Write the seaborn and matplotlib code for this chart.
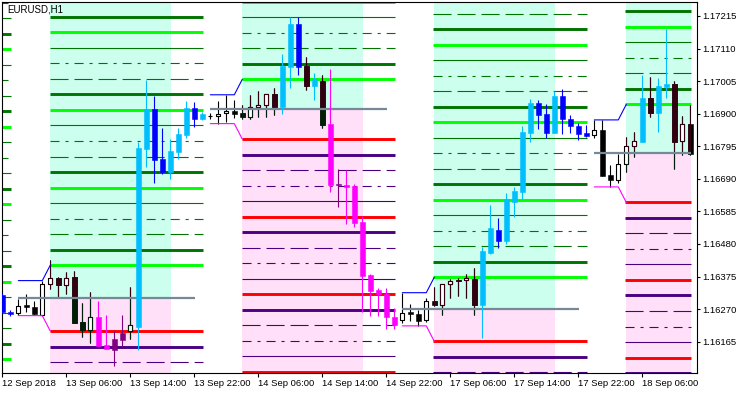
import matplotlib
matplotlib.use("Agg")
import numpy as np
import pandas as pd
import matplotlib.pyplot as plt
from matplotlib.patches import Rectangle
from matplotlib.collections import PatchCollection, LineCollection
from matplotlib.path import Path
import seaborn as sns

sns.set_style("white")
plt.rcParams["font.family"] = ["Liberation Sans", "DejaVu Sans"]
plt.rcParams["lines.scale_dashes"] = False

# ---------------- data ----------------
SYMBOL = "EURUSD,H1"

BAR_TIMES = list(pd.date_range("2018-09-12 22:00", "2018-09-14 23:00", freq="h")) + \
            list(pd.date_range("2018-09-17 00:00", "2018-09-18 12:00", freq="h"))

OPEN = [1.16316, 1.16262, 1.16257, 1.16283, 1.16276, 1.16251, 1.16350, 1.16369, 1.16347, 1.16373,
        1.16228, 1.16204, 1.16245, 1.16154, 1.16139, 1.16171, 1.16200, 1.16213, 1.16786, 1.16915,
        1.16754, 1.16713, 1.16778, 1.16831, 1.16918, 1.16884, 1.16893, 1.16892, 1.16901, 1.16909,
        1.16901, 1.16889, 1.16921, 1.16927, 1.16963, 1.16923, 1.17052, 1.17189, 1.17055, 1.16990,
        1.17005, 1.16867, 1.16671, 1.16670, 1.16668, 1.16551, 1.16380, 1.16332, 1.16319, 1.16246,
        1.16234, 1.16262, 1.16254, 1.16235, 1.16296, 1.16283, 1.16350, 1.16364, 1.16363, 1.16367,
        1.16283, 1.16452, 1.16525, 1.16491, 1.16616, 1.16648, 1.16839, 1.16934, 1.16899, 1.16839,
        1.16956, 1.16883, 1.16860, 1.16837, 1.16830, 1.16847, 1.16702, 1.16685, 1.16737, 1.16796,
        1.16810, 1.16950, 1.16903, 1.16987, 1.16996, 1.16813, 1.16867]
HIGH = [1.16322, 1.16266, 1.16302, 1.16318, 1.16296, 1.16362, 1.16428, 1.16372, 1.16390, 1.16393,
        1.16289, 1.16326, 1.16296, 1.16251, 1.16200, 1.16251, 1.16341, 1.16810, 1.17010, 1.16956,
        1.16855, 1.16818, 1.16855, 1.16942, 1.16939, 1.16905, 1.16901, 1.16941, 1.16961, 1.16944,
        1.16929, 1.16961, 1.16973, 1.16964, 1.16982, 1.17093, 1.17211, 1.17211, 1.17082, 1.17030,
        1.17024, 1.17044, 1.16722, 1.16718, 1.16674, 1.16571, 1.16383, 1.16337, 1.16337, 1.16275,
        1.16323, 1.16286, 1.16267, 1.16305, 1.16340, 1.16351, 1.16368, 1.16371, 1.16383, 1.16403,
        1.16471, 1.16606, 1.16563, 1.16645, 1.16664, 1.16860, 1.16948, 1.16944, 1.16930, 1.16974,
        1.16979, 1.16896, 1.16871, 1.16863, 1.16880, 1.16879, 1.16736, 1.16771, 1.16825, 1.16841,
        1.17025, 1.17018, 1.17015, 1.17173, 1.17004, 1.16893, 1.16927]
LOW = [1.16258, 1.16248, 1.16251, 1.16262, 1.16251, 1.16249, 1.16334, 1.16310, 1.16318, 1.16225,
       1.16181, 1.16162, 1.16151, 1.16141, 1.16088, 1.16151, 1.16175, 1.16138, 1.16729, 1.16678,
       1.16705, 1.16690, 1.16754, 1.16823, 1.16858, 1.16880, 1.16883, 1.16868, 1.16873, 1.16886,
       1.16882, 1.16883, 1.16889, 1.16889, 1.16896, 1.16898, 1.16984, 1.17026, 1.16977, 1.16945,
       1.16855, 1.16648, 1.16598, 1.16545, 1.16536, 1.16262, 1.16249, 1.16249, 1.16205, 1.16205,
       1.16224, 1.16232, 1.16216, 1.16230, 1.16280, 1.16251, 1.16307, 1.16313, 1.16307, 1.16251,
       1.16178, 1.16448, 1.16468, 1.16480, 1.16566, 1.16625, 1.16810, 1.16852, 1.16821, 1.16837,
       1.16836, 1.16839, 1.16814, 1.16825, 1.16821, 1.16699, 1.16664, 1.16676, 1.16713, 1.16760,
       1.16808, 1.16890, 1.16842, 1.16952, 1.16723, 1.16768, 1.16768]
CLOSE = [1.16262, 1.16253, 1.16280, 1.16276, 1.16253, 1.16350, 1.16369, 1.16347, 1.16371, 1.16226,
         1.16204, 1.16244, 1.16152, 1.16142, 1.16174, 1.16194, 1.16218, 1.16789, 1.16915, 1.16751,
         1.16713, 1.16780, 1.16835, 1.16919, 1.16884, 1.16899, 1.16893, 1.16898, 1.16908, 1.16900,
         1.16889, 1.16922, 1.16927, 1.16963, 1.16923, 1.17054, 1.17189, 1.17052, 1.16990, 1.17013,
         1.16865, 1.16670, 1.16673, 1.16665, 1.16549, 1.16378, 1.16329, 1.16318, 1.16244, 1.16219,
         1.16257, 1.16253, 1.16233, 1.16296, 1.16282, 1.16350, 1.16361, 1.16360, 1.16369, 1.16283,
         1.16457, 1.16533, 1.16491, 1.16625, 1.16651, 1.16841, 1.16934, 1.16897, 1.16839, 1.16956,
         1.16884, 1.16861, 1.16836, 1.16828, 1.16847, 1.16700, 1.16685, 1.16737, 1.16796, 1.16811,
         1.16951, 1.16903, 1.16988, 1.16996, 1.16810, 1.16867, 1.16769]

# daily breakout sessions (first bar of the trading range, after a 4-bar box)
RANGE_START_TIME = ["2018-09-12 04:00", "2018-09-13 04:00", "2018-09-14 04:00",
                    "2018-09-17 04:00", "2018-09-18 04:00"]
BOX_HIGH = [1.16058, 1.16362, 1.16961, 1.16323, 1.16880]
BOX_LOW = [1.15940, 1.16249, 1.16868, 1.16216, 1.16664]
RANGE_HIGH = [1.16108, 1.16412, 1.17011, 1.16373, 1.16930]
RANGE_LOW = [1.15890, 1.16199, 1.16818, 1.16166, 1.16614]
LEVEL_STEPS_PIPS = [0, 5, 10, 15, 20, 25, 30, 35, 40, 45, 50, 55, 60, 65, 70, 75, 80,
                    85, 90, 95, 100, 105, 110, 115, 120]
PIP = 0.0001

TICK_TIMES = ["2018-09-12 22:00", "2018-09-13 06:00", "2018-09-13 14:00", "2018-09-13 22:00",
              "2018-09-14 06:00", "2018-09-14 14:00", "2018-09-14 22:00", "2018-09-17 06:00",
              "2018-09-17 14:00", "2018-09-17 22:00", "2018-09-18 06:00"]
TICK_LABELS = ["12 Sep 2018", "13 Sep 06:00", "13 Sep 14:00", "13 Sep 22:00", "14 Sep 06:00",
               "14 Sep 14:00", "14 Sep 22:00", "17 Sep 06:00", "17 Sep 14:00", "17 Sep 22:00",
               "18 Sep 06:00"]
Y_TICKS = [1.17215, 1.17110, 1.17005, 1.16900, 1.16795, 1.16690, 1.16585, 1.16480,
           1.16375, 1.16270, 1.16165]

# ---------------- styles ----------------
GREEN_BG = "#CCFFEE"
PINK_BG = "#FFE0F8"
DARK_ON_GREEN = "#330011"
DARK_ON_PINK = "#001F07"
DASH = (0, (13, 4.3))
DASHDOT = (0, (6.5, 4.3, 2.2, 4.3))
UP_STYLES = [("#00FF00", 2.1, "-"), ("#007400", 2.1, "-"), ("#007400", 0.8, DASH),
             ("#007400", 0.8, DASHDOT), ("#007400", 0.8, "-")]
DN_STYLES = [("#FF0000", 2.1, "-"), ("#4B0082", 2.1, "-"), ("#4B0082", 0.8, DASH),
             ("#4B0082", 0.8, DASHDOT), ("#4B0082", 0.8, "-")]

NB = len(OPEN)
LAST = NB - 1
XMIN, XMAX = -0.04, 86.84
YMIN, YMAX = 1.160641, 1.172601

# map times to bar positions (hours before the first bar extend linearly)
t0 = BAR_TIMES[0]
pos_of = {t: i for i, t in enumerate(BAR_TIMES)}


def bar_pos(ts):
    ts = pd.Timestamp(ts)
    if ts in pos_of:
        return pos_of[ts]
    return int((ts - t0) / pd.Timedelta(hours=1))


RANGE_START = [bar_pos(t) for t in RANGE_START_TIME]

fig = plt.figure(figsize=(7.5, 3.94), dpi=100)
ax = fig.add_axes([2 / 750, 1 - 373 / 394, 695 / 750, 371 / 394])
ax.set_xlim(XMIN, XMAX)
ax.set_ylim(YMIN, YMAX)

green_rects, pink_rects = [], []
for b, rs in enumerate(RANGE_START):
    mid = (BOX_HIGH[b] + BOX_LOW[b]) / 2
    # zone shading
    x0 = rs - 0.04
    x1 = min(rs + 15, LAST) + 0.1
    if x1 > XMIN:
        ax.add_patch(Rectangle((x0, mid), x1 - x0, YMAX + 0.01 - mid, facecolor=GREEN_BG,
                               edgecolor="none", zorder=1))
        ax.add_patch(Rectangle((x0, YMIN - 0.01), x1 - x0, mid - YMIN + 0.01, facecolor=PINK_BG,
                               edgecolor="none", zorder=1))
        green_rects.append((x0, mid, x1, YMAX + 0.01))
        pink_rects.append((x0, YMIN - 0.01, x1, mid))
    # levels
    lx0 = rs - 0.1
    lx1 = min(rs + 19, LAST) + 0.1
    for k, st in enumerate(LEVEL_STEPS_PIPS):
        c, lw, ls = UP_STYLES[k % 5]
        y = RANGE_HIGH[b] + st * PIP
        ax.plot([lx0, lx1], [y, y], color=c, lw=lw, ls=ls, solid_capstyle="butt",
                dash_capstyle="butt", zorder=2)
        c, lw, ls = DN_STYLES[k % 5]
        y = RANGE_LOW[b] - st * PIP
        ax.plot([lx0, lx1], [y, y], color=c, lw=lw, ls=ls, solid_capstyle="butt",
                dash_capstyle="butt", zorder=2)
    # mid line
    ax.plot([rs - 4, min(rs + 18, LAST) + 0.05], [mid, mid], color="#778899", lw=1.6,
            solid_capstyle="butt", zorder=3.5)
    # box high / low tracking lines
    bx = [rs - 4, rs - 3, rs - 2, rs - 1, rs]
    sns.lineplot(x=bx, y=[BOX_HIGH[b]] * 4 + [RANGE_HIGH[b]], color="#0000FF", lw=0.8,
                 ax=ax, estimator=None, sort=False, legend=False, zorder=3.6)
    sns.lineplot(x=bx, y=[BOX_LOW[b]] * 4 + [RANGE_LOW[b]], color="#FF00FF", lw=0.8,
                 ax=ax, estimator=None, sort=False, legend=False, zorder=3.6)


def compound(rects):
    paths = []
    for (a, b_, c, d) in rects:
        paths.append(Path([(a, b_), (c, b_), (c, d), (a, d), (a, b_)],
                          [Path.MOVETO, Path.LINETO, Path.LINETO, Path.LINETO, Path.CLOSEPOLY]))
    return Path.make_compound_path(*paths)


GREEN_PATH = compound(green_rects)
PINK_PATH = compound(pink_rects)

# candle classification
colored = {}
for i in range(NB):
    bull = CLOSE[i] >= OPEN[i]
    for b, rs in enumerate(RANGE_START):
        if rs <= i <= rs + 19:
            if CLOSE[i] > RANGE_HIGH[b]:
                colored[i] = "#00BFFF" if bull else "#0000FF"
            elif CLOSE[i] < RANGE_LOW[b]:
                colored[i] = "#800080" if bull else "#FF00FF"
default_idx = [i for i in range(NB) if i not in colored]
colored_idx = sorted(colored)


def draw_candles(idx, dark, zorder, clip=None, colmap=None):
    segs, lcols, rects, fcs, ecs, lws = [], [], [], [], [], []
    for i in idx:
        o, c = OPEN[i], CLOSE[i]
        lo, hi = min(o, c), max(o, c)
        if colmap is not None:
            col = colmap[i]
            face, edge, w, lw = col, col, 0.62, 0.4
        else:
            col = dark
            if c >= o:
                face, edge, w, lw = "white", dark, 0.52, 0.8
            else:
                face, edge, w, lw = dark, dark, 0.62, 0.4
        segs.append([(i, LOW[i]), (i, HIGH[i])])
        lcols.append(col)
        rects.append(Rectangle((i - w / 2, lo), w, max(hi - lo, 1e-6)))
        fcs.append(face)
        ecs.append(edge)
        lws.append(lw)
    lc = LineCollection(segs, colors=lcols, linewidths=0.8, zorder=zorder)
    pc = PatchCollection(rects, facecolors=fcs, edgecolors=ecs, linewidths=lws,
                         zorder=zorder + 0.01)
    ax.add_collection(lc)
    ax.add_collection(pc)
    if clip is not None:
        lc.set_clip_path(clip, ax.transData)
        pc.set_clip_path(clip, ax.transData)


draw_candles(default_idx, "black", 3.0)
draw_candles(default_idx, DARK_ON_GREEN, 3.1, clip=GREEN_PATH)
draw_candles(default_idx, DARK_ON_PINK, 3.2, clip=PINK_PATH)
draw_candles(colored_idx, None, 4.0, colmap=colored)

# axes cosmetics
for s in ax.spines.values():
    s.set_color("black")
    s.set_linewidth(0.8)
    s.set_visible(True)
ax.set_xticks([bar_pos(t) for t in TICK_TIMES])
ax.set_xticklabels(TICK_LABELS, ha="left", fontsize=6.8, color="black")
ax.yaxis.tick_right()
ax.set_yticks(Y_TICKS)
ax.set_yticklabels([f"{v:.5f}" for v in Y_TICKS], fontsize=6.8, color="black")
ax.tick_params(axis="x", which="both", bottom=True, top=False, direction="out", length=3,
               width=0.8, pad=1.5, colors="black")
ax.tick_params(axis="y", which="both", right=True, left=False, direction="out", length=2.3,
               width=0.8, pad=1.2, colors="black")
ax.set_xlabel("")
ax.set_ylabel("")
ax.grid(False)
ax.set_facecolor("white")

fig.text(7 / 750, 1 - 4 / 394, SYMBOL, ha="left", va="top", fontsize=7, color="black",
         zorder=10)

fig.savefig("out.png", dpi=100)
